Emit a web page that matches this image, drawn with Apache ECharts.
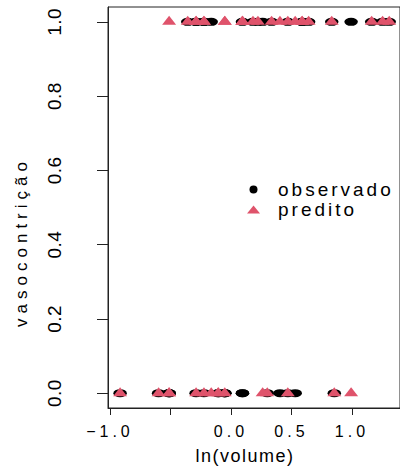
<!DOCTYPE html>
<html>
<head>
<meta charset="utf-8">
<script src="https://cdn.jsdelivr.net/npm/echarts@6/dist/echarts.min.js"></script>
<style>
html,body{margin:0;padding:0;background:#fff;}
#c{width:400px;height:471px;}
</style>
</head>
<body>
<div id="c"></div>
<script>
// ln(volume) of each observation
const lnVolume = [1.308, 1.253, 0.223, -0.288, -0.223, -0.357, -0.511, 0.095, -0.105, -0.105,
                  -0.223, -0.598, -0.511, 0.336, -0.288, 0.833, 1.163, -0.163, 0.531, 0.588,
                  -0.916, -0.051, 0.300, 0.405, 0.470, -0.511, 0.588, -0.051, 0.642, 0.470,
                  0.993, 0.854, 0.095, 0.095, 0.182, -0.223, -0.051, -0.288, 0.262];
// observed vasoconstriction (0/1)
const observado = [1,1,1,1,1,1,0,0,0,0, 0,0,0,1,1,1,1,1,0,1, 0,0,0,0,1,0,1,0,1,0, 1,0,0,1,1,1,0,0,1];
// predicted vasoconstriction (0/1)
const predito   = [1,1,1,1,1,1,0,1,0,0, 0,0,1,1,1,1,1,0,1,1, 0,0,0,1,1,0,1,1,1,0, 0,0,1,1,1,1,1,0,0];

const xTickValues = [-1.0, -0.5, 0.0, 0.5, 1.0];
const xLabelValues = [-1.0, 0.0, 0.5, 1.0];
const yTickValues = [0.0, 0.2, 0.4, 0.6, 0.8, 1.0];
const xTitle = 'ln(volume)';
const yTitle = 'vasocontrição';
const legendNames = ['observado', 'predito'];

const FONT = 'Liberation Sans';
const RED = '#DF536B';
const ELLIPSE = 'path://M0,5a5,5 0 1,0 10,0a5,5 0 1,0 -10,0z';

const fmt = v => (v < 0 ? '\u2212' : '') + Math.abs(v).toFixed(1);

const dom = document.getElementById('c');
const chart = echarts.init(dom, null, {renderer: 'svg', width: 400, height: 471});

chart.setOption({
  animation: false,
  backgroundColor: '#fff',
  grid: {left: 108, top: 7, width: 293, height: 401, show: true, borderColor: '#222', borderWidth: 1, containLabel: false},
  xAxis: {
    type: 'value', min: -1.016, max: 1.397,
    axisLine: {show: true, onZero: false, lineStyle: {color: '#222', width: 1}},
    axisTick: {show: true, inside: false, length: 7, customValues: xTickValues, lineStyle: {color: '#222'}},
    axisLabel: {show: true, customValues: xLabelValues, formatter: fmt, margin: 15,
                fontFamily: FONT, fontSize: 16, color: '#000'},
    splitLine: {show: false}
  },
  yAxis: {
    type: 'value', min: -0.04, max: 1.04,
    axisLine: {show: true, onZero: false, lineStyle: {color: '#222', width: 1}},
    axisTick: {show: true, inside: false, length: 11, customValues: yTickValues, lineStyle: {color: '#222'}},
    axisLabel: {show: true, customValues: yTickValues, formatter: fmt, rotate: 90, margin: 44,
                fontFamily: FONT, fontSize: 19, color: '#000'},
    splitLine: {show: false}
  },
  legend: {
    data: legendNames, orient: 'vertical', left: 242, top: 175, itemWidth: 13, itemHeight: 8, itemGap: 1,
    textStyle: {fontFamily: FONT, fontSize: 19, lineHeight: 19, color: '#000', padding: [0, 0, 0, 13]},
    selectedMode: false
  },
  graphic: [
    {type: 'text', x: 21, y: 242, rotation: Math.PI / 2,
     style: {text: yTitle, fontFamily: FONT, fontSize: 17, fill: '#000', align: 'center', verticalAlign: 'middle'}},
    {type: 'text', x: 245, y: 456,
     style: {text: xTitle, fontFamily: FONT, fontSize: 18, fill: '#000', align: 'center', verticalAlign: 'middle'}}
  ],
  series: [
    {name: legendNames[0], type: 'scatter', symbol: ELLIPSE, symbolSize: [13.5, 8],
     itemStyle: {color: '#000', opacity: 1},
     data: lnVolume.map((x, i) => [x, observado[i]])},
    {name: legendNames[1], type: 'scatter', symbol: 'triangle', symbolSize: [14, 9], symbolOffset: [0, -1.5],
     itemStyle: {color: RED, opacity: 1},
     data: lnVolume.map((x, i) => [x, predito[i]])}
  ]
});

// widen texts a little (reference glyphs look horizontally stretched)
function applySpacing() {
  dom.querySelectorAll('text').forEach(t => {
    const s = t.textContent;
    let ls = 0;
    if (s === yTitle) ls = 5;
    else if (s === xTitle) ls = 1.5;
    else if (legendNames.indexOf(s) >= 0) ls = 3;
    else if (/^[\d.\u2212]+$/.test(s)) {
      const fs = parseFloat(getComputedStyle(t).fontSize);
      ls = fs >= 18 ? 0.5 : 4;
    }
    t.style.letterSpacing = ls + 'px';
  });
}
chart.on('finished', applySpacing);
applySpacing();
setTimeout(applySpacing, 50);
</script>
</body>
</html>
